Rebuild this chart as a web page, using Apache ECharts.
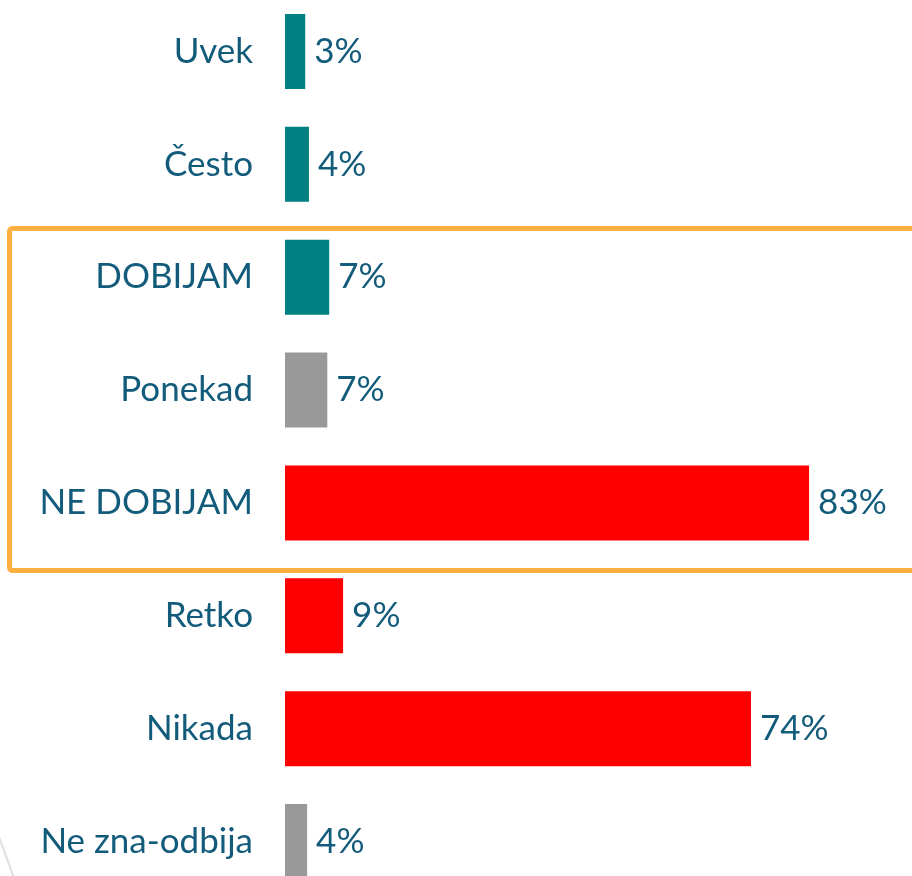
<!DOCTYPE html>
<html>
<head>
<meta charset="utf-8">
<script src="https://cdn.jsdelivr.net/npm/echarts@6/dist/echarts.min.js"></script>
<style>
  html, body { margin: 0; padding: 0; background: #fff; overflow: hidden; }
  #chart { width: 912px; height: 903px; margin-top: -5px; }
</style>
</head>
<body>
<div id="chart"></div>
<script>
// kategorije odozgo nadole
const categories = ['Uvek', 'Često', 'DOBIJAM', 'Ponekad', 'NE DOBIJAM', 'Retko', 'Nikada', 'Ne zna-odbija']
// procenti (ocitano sa slike)
const values = [3.2, 3.8, 7.0, 6.7, 83.0, 9.2, 73.8, 3.5]
// grupa odgovora: dobija / neutralno / ne dobija
const groups = ['yes', 'yes', 'yes', 'mid', 'no', 'no', 'no', 'mid']

const groupColor = { yes: '#008080', mid: '#999999', no: '#ff0000' }
const textColor = '#135b7a'
const fontFam = 'Lato, "Open Sans", sans-serif'

const chart = echarts.init(document.getElementById('chart'))

// div je pomeren 5px nagore, pa su y koordinate ovde +5
const option = {
  animation: false,
  grid: {
    left: 285,
    top: 0,
    right: 0,
    bottom: 0,
    containLabel: false
  },
  xAxis: {
    type: 'value',
    min: 0,
    max: 99.3,
    show: false
  },
  yAxis: {
    type: 'category',
    inverse: true,
    data: categories,
    axisLine: { show: false },
    axisTick: { show: false },
    axisLabel: {
      color: textColor,
      fontSize: 35,
      fontFamily: fontFam,
      margin: 32
    }
  },
  series: [{
    type: 'bar',
    barWidth: 75,
    data: values.map((v, i) => ({
      value: v,
      itemStyle: { color: groupColor[groups[i]] }
    })),
    label: {
      show: true,
      position: 'right',
      distance: 9,
      color: textColor,
      fontSize: 35,
      fontFamily: fontFam,
      formatter: p => Math.round(p.value) + '%'
    }
  }],
  graphic: [
    {
      type: 'rect',
      shape: { x: 9.5, y: 233.5, width: 920, height: 342, r: 3 },
      style: { fill: 'none', stroke: '#fbb040', lineWidth: 5 },
      z: 10
    },
    {
      type: 'line',
      shape: { x1: -2, y1: 839, x2: 14, y2: 883 },
      style: { stroke: '#e0e0e0', lineWidth: 2 }
    }
  ]
}

chart.setOption(option)
</script>
</body>
</html>
